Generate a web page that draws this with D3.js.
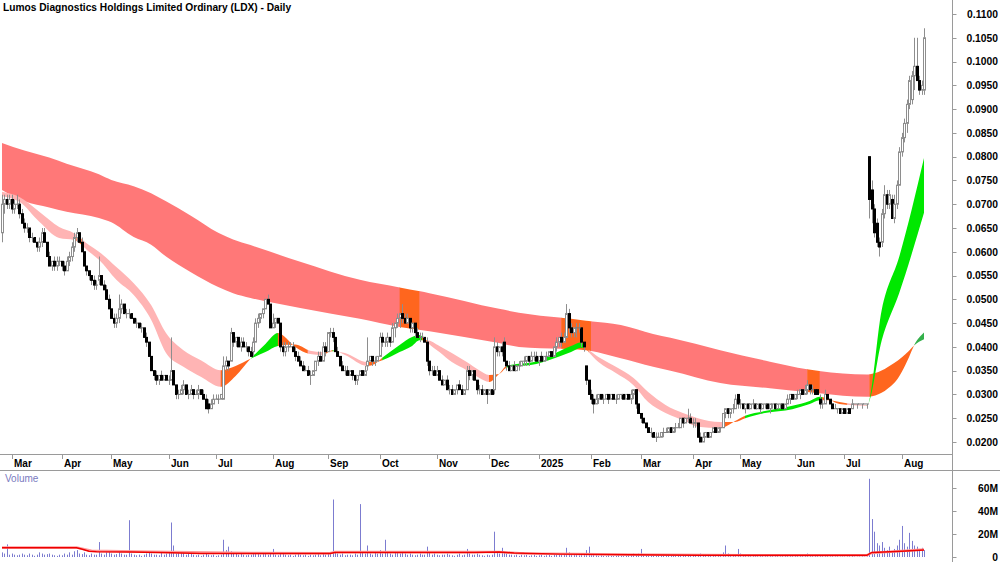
<!DOCTYPE html>
<html>
<head>
<meta charset="utf-8">
<script src="https://cdn.jsdelivr.net/npm/d3@7/dist/d3.min.js"></script>
<style>
html,body{margin:0;padding:0;background:#fff;}
svg{display:block;}
text{font-family:"Liberation Sans",Arial,Helvetica,sans-serif;}
</style>
</head>
<body>
<svg id="chart" width="1000" height="562"></svg>
<script>
// ---------------- DATA ----------------
const title = "Lumos Diagnostics Holdings Limited Ordinary (LDX) - Daily";
const firstDay = "2024-02-26", lastDay = "2025-08-14";
const holidays = ["2024-03-29","2024-04-01","2024-04-25","2024-06-10","2024-12-25","2024-12-26",
  "2025-01-01","2025-01-27","2025-04-18","2025-04-21","2025-04-25","2025-06-09"];

// prices in thousandths of a dollar (0.001)
const open = [64,70,71,70,71,69,70,70,68,66,65,65,63,63,62,61,62,64,62,59,57,58,57,58,58,57,56,58,59,61,
63,64,62,60,57,56,55,54,53,54,55,53,52,50,48,46,45,46,48,49,47,47,47,46,45,45,44,44,42,41,
38,35,34,33,34,33,34,33,33,35,32,30,30,31,32,30,30,31,30,30,31,30,29,28,27,28,29,29,29,29,36,
37,37,43,41,42,40,41,40,40,39,39,41,45,46,47,48,50,49,44,45,46,45,40,39,40,40,40,39,38,37,
36,35,35,34,34,35,37,38,37,40,39,43,43,42,39,38,36,35,35,34,35,34,33,34,35,34,36,37,38,37,
37,38,42,41,41,42,41,44,45,46,47,46,45,46,44,45,43,42,42,42,41,37,35,35,34,35,33,32,33,31,
31,30,31,32,31,30,31,35,34,35,33,31,31,30,31,30,31,31,40,39,40,41,37,36,35,36,35,36,36,37,
37,38,37,38,38,37,38,37,38,38,39,38,40,41,42,41,42,47,44,43,44,44,44,41,36,33,30,29,28,29,
30,29,29,30,29,30,29,29,30,30,29,30,29,30,31,28,26,25,24,23,22,22,21,21,21,22,22,22,23,22,
23,23,23,25,24,25,25,24,24,24,21,20,21,22,21,22,23,22,23,23,26,27,26,27,27,30,28,28,27,28,
27,28,28,27,28,27,28,28,27,28,28,27,28,28,27,28,29,30,29,30,30,31,30,31,32,31,31,31,29,28,
28,30,29,28,27,27,27,26,27,26,27,27,28,28,28,28,28,28,80,
73,69,66,62,62,68,72,70,71,67,70,74,81,84,87,91,92,97,99,96,94,94];
const high = [72,72,72,72,72,71,72,71,69,67,66,65,64,63,62,63,65,65,62,60,58,59,59,59,58,58,59,60,62,64,
65,64,63,60,57,56,55,55,54,59,55,54,53,51,48,47,47,51,50,49,48,48,47,46,46,45,45,44,43,41,
38,35,35,34,35,34,34,34,42,35,32,31,32,33,32,31,32,31,31,32,31,31,30,29,29,30,30,30,30,38,38,
37,44,43,42,42,42,42,41,40,40,42,46,47,47,48,50,51,49,47,46,46,45,41,41,41,41,41,40,39,38,
37,36,36,35,35,37,39,39,41,41,43,44,44,42,40,38,37,36,36,35,35,34,34,35,35,36,42,38,38,38,
38,43,43,42,43,42,45,45,47,47,49,47,47,46,45,45,44,43,43,42,42,37,36,36,36,35,34,33,34,32,
32,31,32,33,32,31,36,36,35,35,33,32,32,31,31,31,31,42,41,40,41,42,37,37,36,37,36,37,37,38,
38,38,39,39,39,38,39,38,39,39,39,40,42,42,43,43,49,48,45,44,45,45,44,41,36,33,31,30,30,30,
30,30,30,30,30,30,30,30,30,30,30,30,31,31,31,28,26,25,24,23,23,22,22,22,22,23,23,23,23,23,
24,24,25,25,25,27,26,25,25,24,22,22,22,22,22,23,23,23,23,26,27,27,27,28,30,30,29,28,28,28,
28,29,28,28,28,28,28,28,28,28,28,28,28,28,28,30,30,30,30,31,31,31,32,33,32,32,31,31,30,29,
31,30,29,28,28,27,27,27,27,27,27,29,28,28,28,28,28,28,80,
75,70,67,63,69,74,73,73,72,72,75,82,85,88,92,97,98,105,105,97,96,107];
const low = [62,68,69,69,68,68,69,67,66,64,64,62,62,62,60,60,61,62,59,57,56,56,56,57,56,55,56,57,58,60,
62,62,60,57,55,54,53,52,52,53,53,52,50,48,46,44,44,45,47,47,46,46,46,45,44,44,43,42,40,38,
35,33,32,32,33,33,33,32,33,32,29,29,30,30,30,29,30,29,30,29,30,29,27,26,27,28,29,28,29,29,35,
35,37,40,40,40,39,40,39,38,38,38,41,44,45,46,48,49,44,44,44,45,39,38,38,39,40,39,37,37,36,
35,35,34,32,34,35,36,37,37,38,39,42,41,39,38,36,35,34,34,34,33,32,32,34,34,34,35,37,36,36,
37,38,40,40,40,40,41,42,44,44,45,45,45,43,43,42,42,41,42,41,36,34,34,34,34,33,32,32,31,30,
30,30,30,31,30,30,31,33,33,33,30,30,30,30,28,30,30,30,38,38,38,37,35,35,35,35,35,35,36,36,
36,36,37,37,37,36,37,37,37,38,38,38,39,40,40,41,42,43,42,42,42,43,40,39,32,30,28,26,28,28,
29,28,29,28,29,29,28,29,29,29,29,29,28,29,27,26,24,24,23,22,21,21,20,21,21,21,22,22,22,22,
22,23,23,23,24,24,24,23,23,21,20,20,21,21,21,22,22,22,22,23,25,25,25,26,27,27,27,27,26,27,
27,27,27,27,26,27,27,27,26,27,27,27,27,27,27,28,28,29,29,29,29,30,30,30,30,30,30,30,27,27,
28,29,28,27,27,26,26,26,26,26,26,27,28,27,28,27,28,27,67,
66,63,61,59,61,67,69,69,67,66,69,74,80,83,85,90,91,94,96,93,93,93];
const close = [70,71,70,71,69,70,70,68,66,65,65,63,63,62,61,62,64,62,59,57,58,57,58,58,57,56,58,59,61,63,
64,62,60,57,56,55,54,53,53,55,53,52,50,48,46,45,46,48,49,47,47,47,46,45,45,44,44,42,41,38,
35,34,33,34,33,34,33,33,35,32,30,30,31,32,30,30,31,30,30,31,30,29,27,27,28,29,29,29,30,36,37,
36,43,41,42,40,41,40,40,39,38,41,45,46,47,48,50,49,44,45,46,45,40,39,40,40,40,39,38,37,36,
35,35,34,34,35,37,38,37,40,39,43,43,42,39,38,36,35,35,34,35,34,33,34,35,34,35,37,38,37,37,
38,42,41,41,42,41,44,45,46,47,46,45,46,44,45,43,42,42,42,41,37,35,35,34,35,33,32,33,31,31,
30,31,32,31,30,31,35,34,35,33,31,31,30,31,30,31,30,40,39,40,39,37,36,35,36,35,36,36,37,37,
38,37,38,38,37,38,37,38,38,39,38,40,41,42,41,42,47,44,43,44,44,44,41,40,33,30,29,28,29,30,
29,29,30,29,30,29,29,30,30,29,30,29,30,31,28,26,25,24,23,22,22,21,21,21,22,22,22,23,22,23,
23,23,25,24,25,25,24,24,24,21,20,21,22,21,22,23,22,23,23,26,27,26,27,27,29,28,28,27,28,27,
28,28,27,28,27,28,28,27,28,28,27,28,28,27,28,29,30,29,30,30,31,30,31,32,31,31,30,30,28,28,
30,29,28,27,27,27,26,27,26,27,26,28,28,28,28,28,28,28,71,
69,64,62,61,68,72,70,72,67,70,74,81,84,87,91,96,97,99,96,94,95,105];

// volume in millions of shares
const volume = [4,3,11,2,3,2,1.5,2,3,2,1.5,3,2,1,2,4,3,2,2.5,3,2,1.5,1,2,1.5,3,2,4,2,5,
6,3,2.5,4,2,1.5,3,2,2,13,3,2,4,5,3,2,2.5,5,3,2,2,32,3,2,1.5,2,1,2,3,4,
3,2,2,1.5,5,2,3,4,30,10,3,5,4,4,2,3,5,2,1.5,2,1,2,3,2,1.5,2,1,1.5,2,15,
6,9,5,3,4,2,3,2,1.5,2,2,3,4,3,2,4,3,2,3,7,2,1.5,4,3,2,1.5,2,1,2,3,
2,1.5,2,1,2,1.5,2,3,1.5,3,2,4,3,50,5,3,2,3,1.5,2,2,1.5,3,2,46,4,3,10,3,2,
4,3,6,3,15,4,3,2,4,5,3,4,3,2,3,2,1.5,2,3,2,2,9,4,2,3,2,1.5,2,2,3,
2,1.5,1,2,3,1.5,2,7,3,2,2,3,2,1.5,1,2,1.5,2,22,5,3,8,4,3,2,2,1.5,2,1,2,
1.5,2,1,1.5,2,1,1.5,2,1,1.5,2,1,2,3,2,3,2,8,4,3,2,2,1.5,3,2,6,9,3,2,1.5,
1,1.5,1,0.8,1.5,1,0.8,1,1.5,1,0.8,1,1.5,2,3,2,3,7,2,1.5,1,1.5,1,0.8,1,1.2,1,0.8,1,1.5,
1,0.8,1,2,1.5,1,2.5,1.5,1,1.2,2,3,1.5,1,0.8,1,1.2,0.8,1,1.5,4,10,3,2,1.5,2,7,3,1.5,1,
1,0.8,1.5,1,0.8,1.2,1,0.8,1,1.5,1,0.8,1,0.7,1,1.2,2,1.5,1,1,1.2,1,1.5,2,3,2,1.5,1,1.5,1,
1,0.8,1,0.7,0.8,0.6,0.7,0.5,0.6,0.5,0.6,0.7,1,0.5,0.4,0.5,0.6,0.4,0.5,68,
33,22,12,10,13,8,6,9,5,7,10,15,27,12,9,21,14,10,9,7,8,6];

// Long-term MA ribbon (sampled edges, trading-day index -> price in 0.001)
const longIdx  = [0,9,19,26,39,44,53,60,66,76,87,93,100,120,144,160,172,200,208,229,235,249,262,269,289,309,324,348,359,365,367,371];
const longSlow = [82.9,81.3,79.8,78.5,76.3,75.1,73.8,72.3,70.6,67.6,64.0,62.6,61.4,57.9,54.1,52.5,51.3,48.0,47.2,45.9,45.5,44.6,42.7,41.9,39.3,36.9,35.3,34.2,36.6,39.2,40.3,41.6];
const longFast = [73.0,70.6,69.3,68.4,67.1,66.2,63.1,61.5,59.0,55.7,52.6,51.3,50.3,48.2,45.9,44.2,43.3,40.8,40.0,39.5,39.3,37.6,35.8,35.0,32.4,31.3,30.5,29.5,32.4,37.9,40.3,43.0];
const longRuns = [[0,160,"r"],[160,168,"o"],[168,225,"r"],[225,237,"o"],[237,324,"r"],[324,329,"o"],[329,349,"r"],[349,367,"o"],[367,371,"G"]];

// Short-term MA ribbon
const shortIdx  = [0,7,15,23,29,35,39,46,53,60,66,73,80,88,94,100,106,111,118,124,129,133,138,147,150,153,160,165,168,171,176,181,187,192,196,200,203,215,220,229,233,235,240,247,254,260,267,274,280,289,295,299,307,318,325,329,333,337,348,354,361,371];
const shortFast = [71.7,70.5,66.3,62.9,62.5,60.0,58.3,54.1,50.9,45.7,38.7,35.8,33.7,31.6,33.9,37.5,40.6,42.9,40.0,38.5,38.3,39.3,38.3,36.0,36.4,37.7,40.4,42.1,42.5,41.0,38.9,36.8,35.1,33.5,32.6,34.3,36.0,37.0,38.1,40.2,41.0,39.6,36.8,34.5,32.0,28.4,26.1,24.6,23.2,22.9,24.4,25.5,26.5,27.6,28.6,29.5,28.9,28.0,27.6,47.8,58.9,79.7];
const shortSlow = [72.6,71.5,68.4,65.2,63.9,61.4,60.0,56.8,53.4,48.8,42.9,39.3,37.2,35.1,36.0,37.5,38.9,40.2,40.5,39.2,38.9,39.1,38.7,36.8,36.8,37.2,38.9,40.2,41.4,41.4,40.2,38.7,36.8,35.1,34.1,34.3,35.6,36.4,37.2,38.9,39.8,39.6,37.9,35.8,33.5,30.5,27.8,26.1,25.0,24.2,24.2,25.0,26.1,26.9,28.0,28.8,28.8,28.4,27.8,41.4,51.3,68.2];
const shortRuns = [[0,30,"p"],[30,32,"o"],[32,88,"p"],[88,100,"o"],[100,111,"g"],[111,123,"o"],[123,129,"p"],[129,133,"o"],[133,135,"g"],[135,147,"p"],[147,153,"o"],[153,169,"g"],[169,171,"o"],[171,196,"p"],[196,203,"o"],[203,234,"g"],[234,236,"o"],[236,290,"p"],[290,299,"o"],[299,330,"g"],[330,340,"o"],[340,348,"p"],[348,371,"g"]];

// Volume moving averages (sampled, millions)
const vmaIdx = [0,30,32,35,38,52,68,80,104,132,134,190,200,206,225,253,280,345,348,350,362,371];
const vmaRed = [8.0,8.0,7.0,5.0,4.5,4.3,3.6,3.0,3.0,3.1,3.9,4.0,4.3,3.5,2.5,2.0,1.5,1.5,1.5,4.0,5.0,6.0];
const vma2Idx = [0,30,36,60,100,132,134,200,210,250,300,348,350,371];
const vma2 = [8.3,8.3,5.5,4.5,3.5,3.3,4.3,4.3,3.0,2.2,1.6,1.6,3.5,6.5];

const priceTicks = [20,25,30,35,40,45,50,55,60,65,70,75,80,85,90,95,100,105,110];
const volTicks = [0,20,40,60];
const volTickLabels = ["0","20M","40M","60M"];

// ---------------- CHART ----------------
const colors = {r:"#ff7878", p:"#ffb4b4", o:"#ff661e", g:"#00e800", G:"#33b04a"};
const svg = d3.select("#chart");
const defs = svg.append("defs");
const plotRight = 952, priceBottom = 454, volTop = 470;

const fmtDay = d3.utcFormat("%Y-%m-%d");
const dates = d3.utcDays(new Date(firstDay+"T00:00:00Z"), d3.utcDay.offset(new Date(lastDay+"T00:00:00Z"),1))
  .filter(d => d.getUTCDay()!==0 && d.getUTCDay()!==6 && !holidays.includes(fmtDay(d)));
const N = close.length;

const x = d3.scaleLinear().domain([0, N-1]).range([2, 924]);
const y = d3.scaleLinear().domain([20, 110]).range([442, 14]);
const yv = d3.scaleLinear().domain([0, 60]).range([557, 488]);

defs.append("clipPath").attr("id","pricePane").append("rect").attr("x",0).attr("y",0).attr("width",plotRight).attr("height",priceBottom);
defs.append("clipPath").attr("id","volPane").append("rect").attr("x",0).attr("y",volTop+1).attr("width",plotRight).attr("height",562-volTop);

const gPrice = svg.append("g").attr("clip-path","url(#pricePane)");

function drawRibbon(idx, a, b, runs, key){
  const pts = idx.map((k,j)=>({i:k, a:a[j], b:b[j]}));
  const area = d3.area().x(d=>x(d.i)).y0(d=>y(d.a)).y1(d=>y(d.b)).curve(d3.curveMonotoneX);
  const g = gPrice.append("g");
  runs.forEach((r,k)=>{
    const x0 = k===0 ? 0 : x(r[0]);
    const x1 = k===runs.length-1 ? plotRight : x(r[1]) + 0.4;
    const id = key + k;
    defs.append("clipPath").attr("id", id).append("rect")
      .attr("x", x0).attr("y", 0).attr("width", Math.max(0, x1-x0)).attr("height", priceBottom);
    g.append("path").attr("d", area(pts)).attr("fill", colors[r[2]]).attr("clip-path", `url(#${id})`);
  });
}
drawRibbon(longIdx, longSlow, longFast, longRuns, "lr");
drawRibbon(shortIdx, shortSlow, shortFast, shortRuns, "sr");

// candles
const bars = d3.range(N).map(i=>({i, o:open[i], h:high[i], l:low[i], c:close[i]}));
const gC = gPrice.append("g");
gC.selectAll("line.wick").data(bars).join("line").attr("class","wick")
  .attr("x1", d=>Math.round(x(d.i))+0.5).attr("x2", d=>Math.round(x(d.i))+0.5)
  .attr("y1", d=>y(d.h)).attr("y2", d=>y(d.l))
  .attr("stroke", "#8e8e8e").attr("stroke-width", 1);
gC.selectAll("rect.body").data(bars.filter(d=>d.c!==d.o)).join("rect").attr("class","body")
  .attr("x", d=>Math.round(x(d.i))-0.5).attr("width", 2)
  .attr("y", d=>y(Math.max(d.o,d.c))).attr("height", d=>Math.max(1, y(Math.min(d.o,d.c))-y(Math.max(d.o,d.c))))
  .attr("fill", d=>d.c>d.o ? "#fff" : "#000")
  .attr("stroke", d=>d.c>d.o ? "#8e8e8e" : "#000").attr("stroke-width", 1);
gC.selectAll("line.doji").data(bars.filter(d=>d.c===d.o)).join("line").attr("class","doji")
  .attr("x1", d=>Math.round(x(d.i))-1).attr("x2", d=>Math.round(x(d.i))+2)
  .attr("y1", d=>y(d.c)).attr("y2", d=>y(d.c))
  .attr("stroke", "#7a7a7a").attr("stroke-width", 1);

// title
svg.append("text").attr("x",3).attr("y",11).attr("font-size","10.2px").attr("font-weight","bold").attr("fill","#000").text(title);

// frame lines
const axisColor = "#9a9a9a";
svg.append("line").attr("x1",0).attr("x2",plotRight).attr("y1",priceBottom+0.5).attr("y2",priceBottom+0.5).attr("stroke",axisColor);
svg.append("line").attr("x1",0).attr("x2",1000).attr("y1",volTop+0.5).attr("y2",volTop+0.5).attr("stroke",axisColor);
svg.append("line").attr("x1",plotRight+0.5).attr("x2",plotRight+0.5).attr("y1",0).attr("y2",562).attr("stroke",axisColor);

// right price axis
const gY = svg.append("g");
gY.selectAll("line").data(priceTicks).join("line")
  .attr("x1",plotRight+0.5).attr("x2",plotRight+4.5).attr("y1",d=>Math.round(y(d))+0.5).attr("y2",d=>Math.round(y(d))+0.5).attr("stroke",axisColor);
gY.selectAll("text").data(priceTicks).join("text")
  .attr("x",998).attr("y",d=>y(d)+3.8).attr("text-anchor","end")
  .attr("font-size","10.3px").attr("font-weight","bold").attr("fill","#000")
  .text(d=>d3.format(".4f")(d/1000));

// month axis
const monthIdx = d3.range(1,N).filter(i=>dates[i] && dates[i-1] && dates[i].getUTCMonth()!==dates[i-1].getUTCMonth());
const monthLabel = i => dates[i].getUTCMonth()===0 ? String(dates[i].getUTCFullYear()) : d3.utcFormat("%b")(dates[i]);
const gX = svg.append("g");
gX.selectAll("line").data(monthIdx).join("line")
  .attr("x1",i=>Math.round(x(i))+0.5).attr("x2",i=>Math.round(x(i))+0.5).attr("y1",priceBottom+0.5).attr("y2",priceBottom+5).attr("stroke",axisColor);
gX.selectAll("text").data(monthIdx).join("text")
  .attr("x",i=>Math.round(x(i))+2).attr("y",467).attr("font-size","10px").attr("font-weight","bold").attr("fill","#000")
  .text(monthLabel);

// volume pane
svg.append("text").attr("x",5).attr("y",482).attr("font-size","10px").attr("fill","#7b7bbf").text("Volume");
const gV = svg.append("g").attr("clip-path","url(#volPane)");
gV.selectAll("line").data(volume.map((v,i)=>({i,v}))).join("line")
  .attr("x1",d=>Math.round(x(d.i))+0.5).attr("x2",d=>Math.round(x(d.i))+0.5)
  .attr("y1",yv(0)).attr("y2",d=>yv(d.v)).attr("stroke","#7c7cd0").attr("stroke-width",1);
const vline = d3.line().x(d=>x(d[0])).y(d=>yv(d[1]));
gV.append("path").attr("d", vline(vma2Idx.map((k,j)=>[k,vma2[j]]))).attr("fill","none").attr("stroke","#ff9a9a").attr("stroke-width",2.5);
gV.append("path").attr("d", vline(vmaIdx.map((k,j)=>[k,vmaRed[j]]))).attr("fill","none").attr("stroke","#ee0000").attr("stroke-width",1.5);
const gVY = svg.append("g");
gVY.selectAll("line").data(volTicks).join("line")
  .attr("x1",plotRight+0.5).attr("x2",plotRight+4.5).attr("y1",d=>Math.round(yv(d))+0.5).attr("y2",d=>Math.round(yv(d))+0.5).attr("stroke",axisColor);
gVY.selectAll("text").data(volTicks).join("text")
  .attr("x",998).attr("y",d=>yv(d)+3.8).attr("text-anchor","end")
  .attr("font-size","10.3px").attr("font-weight","bold").attr("fill","#000")
  .text((d,k)=>volTickLabels[k]);

if (open.length!==N || high.length!==N || low.length!==N || volume.length!==N || dates.length!==N) {
  svg.append("text").attr("x",300).attr("y",100).attr("fill","red")
    .text(`len o${open.length} h${high.length} l${low.length} c${N} v${volume.length} d${dates.length}`);
}
</script>
</body>
</html>
